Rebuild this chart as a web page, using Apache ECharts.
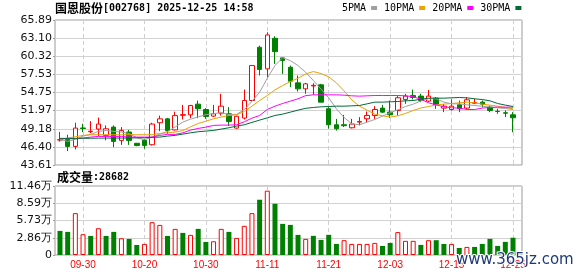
<!DOCTYPE html>
<html><head><meta charset="utf-8">
<script src="https://cdn.jsdelivr.net/npm/echarts@6/dist/echarts.min.js"></script>
<style>html,body{margin:0;padding:0;background:#fff}#c{width:578px;height:276px}</style>
</head><body><div id="c"></div>
<script>
const dates = ['09-25','09-26','09-29','09-30','10-09','10-10','10-13','10-14','10-15','10-16','10-17','10-20','10-21','10-22','10-23','10-24','10-27','10-28','10-29','10-30','10-31','11-03','11-04','11-05','11-06','11-07','11-10','11-11','11-12','11-13','11-14','11-17','11-18','11-19','11-20','11-21','11-24','11-25','11-26','11-27','11-28','12-01','12-02','12-03','12-04','12-05','12-08','12-09','12-10','12-11','12-12','12-15','12-16','12-17','12-18','12-19','12-22','12-23','12-24','12-25'];
const labelDates = ['09-30','10-20','10-30','11-11','11-21','12-03','12-15','12-25'];
const openP  = [47.45,47.54,46.47,49.30,48.72,49.13,48.16,49.43,47.39,48.67,46.95,47.39,46.72,50.10,50.70,49.00,51.25,51.32,52.96,52.14,51.12,51.58,51.48,49.28,50.82,53.52,61.70,58.38,63.08,60.07,58.63,56.23,55.31,55.75,55.93,52.25,49.79,49.80,49.33,50.20,50.71,51.22,52.35,51.73,51.99,53.68,54.30,54.20,53.42,53.88,52.35,52.14,52.86,52.35,53.10,53.27,52.50,51.86,51.63,51.32];
const closeP = [47.50,46.47,49.28,49.22,48.80,49.90,49.18,47.24,48.93,47.39,46.60,46.62,49.90,50.70,48.90,51.20,51.35,52.75,52.25,51.07,51.48,52.65,50.30,51.10,53.52,58.89,58.30,63.59,61.03,59.66,56.49,55.31,56.08,55.85,53.27,49.79,49.18,49.65,49.90,50.30,51.22,52.14,51.73,51.32,53.94,54.20,53.99,53.52,54.20,52.86,52.65,52.65,52.24,53.63,53.20,52.96,51.99,51.83,51.58,50.87];
const lowP   = [47.20,45.76,46.00,48.65,48.50,48.05,47.40,46.36,46.70,46.70,46.50,46.10,46.60,48.80,48.40,48.90,50.60,50.80,50.80,50.70,50.97,51.20,49.60,49.20,50.60,53.37,57.36,57.10,59.14,57.61,55.57,54.90,54.55,54.40,53.27,49.20,48.90,49.45,49.23,49.70,50.10,50.70,51.63,50.82,51.22,53.00,53.68,53.27,53.27,52.24,51.73,51.99,51.73,52.14,52.96,52.45,51.73,51.48,50.97,48.64];
const highP  = [48.70,48.26,50.10,49.95,50.35,50.90,49.70,49.70,49.43,49.00,47.00,47.65,50.10,51.20,50.85,51.80,52.85,52.85,53.50,52.35,52.85,54.55,52.50,51.20,55.20,58.99,61.95,64.00,63.39,60.17,58.89,57.36,56.23,56.18,56.08,52.50,50.70,51.30,50.70,50.97,51.83,52.65,52.85,53.52,54.20,54.55,55.20,54.55,55.15,54.04,53.00,53.68,53.52,54.04,53.83,53.52,52.75,52.24,51.99,51.73];
const ma5  = [47.54,47.24,47.54,48.05,48.30,48.77,48.92,48.77,48.67,48.45,47.80,47.50,47.90,48.35,48.75,49.45,50.20,50.65,51.00,51.35,51.50,51.65,51.35,51.40,52.10,53.40,54.80,56.94,58.89,60.10,59.65,58.89,57.86,56.59,55.26,53.93,52.24,50.91,49.94,49.79,50.20,50.61,51.12,51.63,52.09,52.60,52.96,53.45,53.78,53.78,53.27,53.01,53.01,52.86,52.75,52.65,52.50,52.40,52.29,52.14];
const ma10 = [47.54,47.75,47.95,48.16,48.26,48.26,48.26,48.26,48.26,48.26,48.26,48.26,48.26,48.46,48.56,48.67,48.90,49.48,49.99,50.35,50.71,50.97,51.22,51.32,51.83,52.65,53.52,54.29,55.16,55.82,56.43,56.94,57.60,57.97,57.66,57.15,56.23,55.00,53.62,52.65,52.04,51.43,51.17,50.97,51.17,51.53,51.99,52.37,52.60,52.86,52.96,53.06,53.16,53.27,53.16,52.96,52.81,52.65,52.45,52.24];
const ma20 = [47.64,47.64,47.64,47.75,47.90,48.00,48.00,48.00,48.00,47.90,47.90,47.90,47.90,48.16,48.31,48.31,48.55,48.97,49.23,49.43,49.69,49.74,49.74,49.79,50.25,50.81,51.22,52.14,52.65,53.06,53.42,53.78,54.27,54.39,54.39,54.39,54.39,54.34,54.24,54.19,54.24,54.29,54.29,54.29,54.29,54.24,54.10,53.70,53.16,52.86,52.55,52.40,52.35,52.14,52.14,52.35,52.45,52.50,52.50,52.50];
const ma30 = [47.70,47.70,47.70,47.72,47.72,47.74,47.75,47.75,47.75,47.76,47.78,47.80,47.85,47.90,48.05,48.16,48.36,48.56,48.72,48.82,48.92,49.13,49.33,49.59,49.79,50.15,50.51,50.86,51.22,51.43,51.73,52.04,52.32,52.45,52.55,52.60,52.65,52.65,52.70,52.75,53.01,53.27,53.27,53.32,53.37,53.47,53.52,53.72,53.88,53.88,53.88,53.93,53.98,53.93,53.78,53.67,53.47,53.06,52.81,52.60];
const volume = [40000,38400,69500,34500,31700,44500,31700,38400,27800,26700,16700,18400,54500,50000,31700,43400,36700,33400,43400,21700,22800,43400,38400,28400,48400,69500,91800,106800,85100,51700,50000,33400,26800,31800,25100,33500,18400,24600,18400,18400,18400,20100,15100,20100,38000,23500,23500,16800,24600,24600,18400,18400,11700,13400,13400,18400,26800,15100,21800,28682];
const volUp = [0,0,1,1,0,1,0,0,1,0,0,1,1,1,0,1,0,1,0,0,1,1,0,1,1,1,0,1,0,0,0,0,1,0,0,0,0,1,1,1,1,1,0,0,1,1,1,0,1,0,0,1,0,1,0,0,0,0,0,0];
const priceTicks = ['43.61','46.40','49.18','51.97','54.75','57.53','60.32','63.10','65.89'];
const volTicks = ['0','2.86万','5.73万','8.59万','11.46万'];
const maNames = ['5PMA','10PMA','20PMA','30PMA'];

const UP = '#ff0000', DOWN = '#008000';
const maColors = ['#a0a0a0','#f0a000','#ff00ff','#006b35'];
const SANS = 'DejaVu Sans', MONO = 'DejaVu Sans Mono', CJK = 'Noto Sans CJK SC';
const isLabel = (i, v) => labelDates.indexOf(dates[i]) >= 0;
const gridLineColor = '#d2d2d2';
const frameColor = '#9a9a9a';

const chart = echarts.init(document.getElementById('c'), null, {renderer: 'canvas'});
const candle = dates.map((d, i) => [openP[i], closeP[i], lowP[i], highP[i]]);
const maData = [ma5, ma10, ma20, ma30];

const option = {
  animation: false,
  backgroundColor: '#fff',
  title: [
    {text: '{c|国恩股份}{m|[002768] 2025-12-25 14:58}', left: 55, top: 2, padding: 0,
     textStyle: {rich: {c: {fontFamily: CJK, fontSize: 12, color: '#000'}, m: {fontFamily: MONO, fontSize: 10, color: '#000'}}}},
    {text: '{c|成交量}{m|:' + volume[volume.length - 1] + '}', left: 57, top: 171, padding: 0,
     textStyle: {rich: {c: {fontFamily: CJK, fontSize: 12, color: '#000'}, m: {fontFamily: MONO, fontSize: 10, color: '#000'}}}}
  ],
  legend: {
    data: maNames, left: 342, top: 3, itemWidth: 6, itemHeight: 4, itemGap: 7, align: 'right',
    icon: 'rect', selectedMode: false, padding: 0,
    textStyle: {fontFamily: MONO, fontSize: 10, color: '#000'}
  },
  grid: [
    {left: 55, top: 20, width: 467, height: 145, show: true, borderColor: frameColor, borderWidth: 1},
    {left: 60, top: 20, width: 453, height: 145},
    {left: 55, top: 186, width: 467, height: 69, show: true, borderColor: frameColor, borderWidth: 1},
    {left: 60, top: 186, width: 453, height: 69}
  ],
  xAxis: [
    {gridIndex: 0, type: 'value', min: 0, max: 1, show: false},
    {gridIndex: 1, type: 'category', data: dates, boundaryGap: false,
     axisLine: {show: false}, axisTick: {show: false}, axisLabel: {show: false},
     splitLine: {show: true, interval: isLabel, lineStyle: {color: '#cfcfcf', type: [4, 3], width: 1}}},
    {gridIndex: 2, type: 'value', min: 0, max: 1, show: false},
    {gridIndex: 3, type: 'category', data: dates, boundaryGap: false,
     axisLine: {show: false}, axisTick: {show: false},
     axisLabel: {interval: isLabel, color: UP, fontFamily: 'Liberation Sans', fontSize: 10, margin: 5},
     splitLine: {show: true, interval: isLabel, lineStyle: {color: '#cfcfcf', type: [4, 3], width: 1}}}
  ],
  yAxis: [
    {gridIndex: 0, type: 'value', min: 0, max: 8, interval: 1,
     axisLine: {show: false}, axisTick: {show: true, length: 2, lineStyle: {color: frameColor}},
     axisLabel: {formatter: v => priceTicks[Math.round(v)], fontFamily: SANS, fontSize: 11, color: '#111', margin: 3},
     splitLine: {show: true, lineStyle: {color: gridLineColor, width: 1}}},
    {gridIndex: 1, type: 'value', min: 43.61, max: 65.89, show: false},
    {gridIndex: 2, type: 'value', min: 0, max: 4, interval: 1,
     axisLine: {show: false}, axisTick: {show: true, length: 2, lineStyle: {color: frameColor}},
     axisLabel: {formatter: v => volTicks[Math.round(v)], fontFamily: SANS, fontSize: 11, color: '#111', margin: 3},
     splitLine: {show: true, lineStyle: {color: gridLineColor, width: 1}}},
    {gridIndex: 3, type: 'value', min: 0, max: 114600, show: false}
  ],
  series: [
    {type: 'candlestick', xAxisIndex: 1, yAxisIndex: 1, data: candle, barWidth: 5, clip: false, z: 2,
     itemStyle: {color: '#ffffff', color0: DOWN, borderColor: UP, borderColor0: DOWN, borderWidth: 1}},
    ...maNames.map((n, k) => ({
      type: 'line', name: n, xAxisIndex: 1, yAxisIndex: 1, data: maData[k], symbol: 'none', showSymbol: false,
      clip: false, z: 3, lineStyle: {width: 1, color: maColors[k]}, itemStyle: {color: maColors[k]}
    })),
    {type: 'bar', xAxisIndex: 3, yAxisIndex: 3, barWidth: 5, clip: false,
     data: volume.map((v, i) => ({value: v, itemStyle: volUp[i] ? {color: '#ffffff', borderColor: UP, borderWidth: 1} : {color: DOWN, borderWidth: 0}}))}
  ],
  graphic: [
    {type: 'text', left: 455, top: 252, z: 100,
     style: {text: 'www.365jz.com', font: '15px "DejaVu Sans"', fill: '#1e3a78', stroke: '#ffffff', lineWidth: 2}}
  ]
};
chart.setOption(option);
</script>
</body></html>
